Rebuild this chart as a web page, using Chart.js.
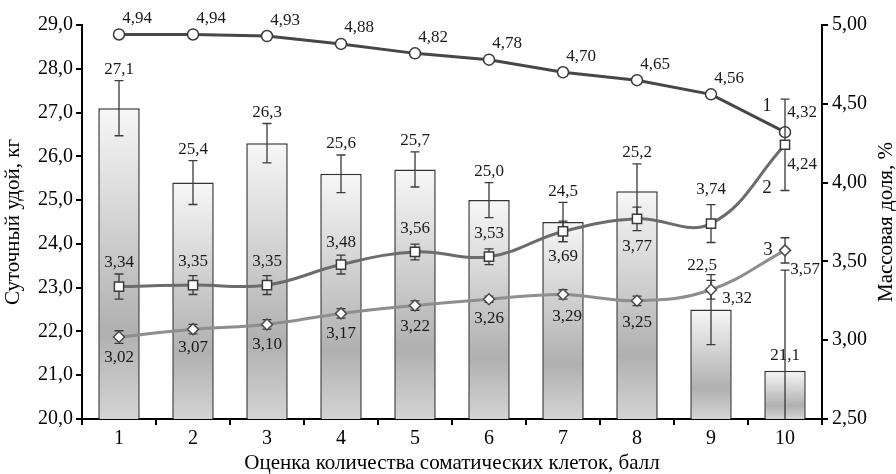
<!DOCTYPE html>
<html><head><meta charset="utf-8">
<script src="https://cdn.jsdelivr.net/npm/chart.js@4/dist/chart.umd.min.js"></script>
<style>html,body{margin:0;padding:0;background:#fff}#wrap{width:896px;height:474px;position:relative}</style>
</head><body><div id="wrap"><canvas id="c"></canvas></div>
<script>
// ---- data ----
const categories = ['1','2','3','4','5','6','7','8','9','10'];
const milkYield    = [27.1, 25.4, 26.3, 25.6, 25.7, 25.0, 24.5, 25.2, 22.5, 21.1];
const milkYieldErr = [0.63, 0.50, 0.45, 0.43, 0.40, 0.40, 0.45, 0.63, 0.80, 2.30];
const line1Values  = [4.94, 4.94, 4.93, 4.88, 4.82, 4.78, 4.70, 4.65, 4.56, 4.32];
const line2Values  = [3.34, 3.35, 3.35, 3.48, 3.56, 3.53, 3.69, 3.77, 3.74, 4.24];
const line2Err     = [0.08, 0.06, 0.06, 0.06, 0.05, 0.05, 0.065, 0.075, 0.12, 0.29];
const line3Values  = [3.02, 3.07, 3.10, 3.17, 3.22, 3.26, 3.29, 3.25, 3.32, 3.57];
const line3Err     = [0.04, 0.03, 0.03, 0.03, 0.03, 0.02, 0.03, 0.03, 0.06, 0.08];
const leftTicks  = [20, 21, 22, 23, 24, 25, 26, 27, 28, 29];
const rightTicks = [2.5, 3.0, 3.5, 4.0, 4.5, 5.0];
const seriesNames = ['1', '2', '3'];
const xTitle = 'Оценка количества соматических клеток, балл';
const yLeftTitle = 'Суточный удой, кг';
const yRightTitle = 'Массовая доля, %';

// ---- label placement (style) ----
const line1LabelOff = [[18,-16],[18,-16],[18,-16],[18,-16],[18,-16],[18,-16],[18,-16],[18,-16],[18,-16],[17,-20]];
const line2LabelOff = [[0,-24],[0,-24],[0,-24],[0,-22],[0,-23],[0,-23],[0,25],[0,28],[0,-34],[17,20]];
const line3LabelOff = [[0,20],[0,18],[0,20],[0,20],[0,21],[0,19],[4,22],[0,22],[26,9],[20,19]];
const barLabelOff   = [[0,-11],[0,-11],[0,-11],[0,-11],[0,-11],[0,-11],[0,-11],[0,-11],[-9,-9],[0,-15]];
const barLabelAnchorBarTop = [false,false,false,false,false,false,false,false,false,true];
const seriesNameOff = [[-18,-26],[-18,43],[-17,0]];

const FONT = '"Liberation Serif", "Times New Roman", serif';
const fmt = (v, d) => v.toFixed(d).replace('.', ',');

const barGradient = (ctx) => {
  const chart = ctx.chart; const y = chart.scales.y;
  if (!y || ctx.type !== 'data') return '#d0d0d0';
  const top = y.getPixelForValue(ctx.raw);
  const base = y.getPixelForValue(y.min);
  if (!isFinite(top) || !isFinite(base) || base - top < 1) return '#d0d0d0';
  const g = chart.ctx.createLinearGradient(0, top, 0, base);
  g.addColorStop(0, '#f7f7f7');
  g.addColorStop(0.72, '#b0b0b0');
  g.addColorStop(1, '#d4d4d4');
  return g;
};

function drawErr(ctx, x, yTop, yBot, cap) {
  ctx.beginPath();
  ctx.moveTo(x, yTop); ctx.lineTo(x, yBot);
  ctx.moveTo(x - cap, yTop); ctx.lineTo(x + cap, yTop);
  ctx.moveTo(x - cap, yBot); ctx.lineTo(x + cap, yBot);
  ctx.stroke();
}

const errPlugin = {
  id: 'errbars',
  afterDatasetDraw(chart, args) {
    const ctx = chart.ctx; const ca = chart.chartArea;
    const meta = chart.getDatasetMeta(args.index);
    ctx.save();
    ctx.beginPath(); ctx.rect(ca.left, ca.top - 2, ca.right - ca.left, ca.bottom - ca.top + 2); ctx.clip();
    ctx.strokeStyle = '#3a3a3a'; ctx.lineWidth = 1.3;
    if (args.index === 0) {
      const y = chart.scales.y;
      meta.data.forEach((el, i) => {
        drawErr(ctx, el.x, y.getPixelForValue(milkYield[i] + milkYieldErr[i]), y.getPixelForValue(milkYield[i] - milkYieldErr[i]), 4.5);
      });
    }
    ctx.restore();
  },
  beforeDatasetDraw(chart, args) {
    const ctx = chart.ctx;
    const y1 = chart.scales.y1;
    const meta = chart.getDatasetMeta(args.index);
    let vals = null, errs = null;
    if (args.index === 2) { vals = line2Values; errs = line2Err; }
    if (args.index === 3) { vals = line3Values; errs = line3Err; }
    if (!vals) return;
    ctx.save();
    ctx.strokeStyle = '#3a3a3a'; ctx.lineWidth = 1.3;
    meta.data.forEach((el, i) => {
      drawErr(ctx, el.x, y1.getPixelForValue(vals[i] + errs[i]), y1.getPixelForValue(vals[i] - errs[i]), 4.5);
    });
    ctx.restore();
  }
};

const labelPlugin = {
  id: 'labels',
  afterDraw(chart) {
    const ctx = chart.ctx; const y = chart.scales.y;
    ctx.save();
    ctx.fillStyle = '#1a1a1a';
    ctx.font = '17px ' + FONT;
    ctx.textAlign = 'center'; ctx.textBaseline = 'middle';
    const bars = chart.getDatasetMeta(0).data;
    bars.forEach((el, i) => {
      const anchor = barLabelAnchorBarTop[i] ? y.getPixelForValue(milkYield[i]) : y.getPixelForValue(milkYield[i] + milkYieldErr[i]);
      ctx.fillText(fmt(milkYield[i], 1), el.x + barLabelOff[i][0], anchor + barLabelOff[i][1]);
    });
    const sets = [[1, line1Values, line1LabelOff], [2, line2Values, line2LabelOff], [3, line3Values, line3LabelOff]];
    sets.forEach(([di, vals, off]) => {
      chart.getDatasetMeta(di).data.forEach((el, i) => {
        ctx.fillText(fmt(vals[i], 2), el.x + off[i][0], el.y + off[i][1]);
      });
    });
    ctx.font = '19px ' + FONT;
    [1, 2, 3].forEach((di, k) => {
      const pts = chart.getDatasetMeta(di).data; const el = pts[pts.length - 1];
      ctx.fillText(seriesNames[k], el.x + seriesNameOff[k][0], el.y + seriesNameOff[k][1]);
    });
    // right axis title (reads bottom-to-top)
    ctx.font = '21px ' + FONT;
    ctx.fillStyle = '#000';
    ctx.translate(886, (chart.chartArea.top + chart.chartArea.bottom) / 2);
    ctx.rotate(-Math.PI / 2);
    ctx.fillText(yRightTitle, 0, 0);
    ctx.restore();
  }
};

new Chart(document.getElementById('c'), {
  data: {
    labels: categories,
    datasets: [
      { type: 'bar', data: milkYield, yAxisID: 'y', order: 10,
        backgroundColor: barGradient, borderColor: '#333', borderWidth: 1.5, borderSkipped: 'bottom',
        barPercentage: 0.56, categoryPercentage: 1.0 },
      { type: 'line', data: line1Values, yAxisID: 'y1', order: 3,
        borderColor: '#474747', borderWidth: 3, tension: 0,
        pointStyle: 'circle', pointRadius: 5.5, pointBackgroundColor: '#fff', pointBorderColor: '#3a3a3a', pointBorderWidth: 1.5 },
      { type: 'line', data: line2Values, yAxisID: 'y1', order: 2,
        borderColor: '#6c6c6c', borderWidth: 3, tension: 0.4,
        pointStyle: 'rect', pointRadius: 6.5, pointBackgroundColor: '#fff', pointBorderColor: '#3a3a3a', pointBorderWidth: 1.5 },
      { type: 'line', data: line3Values, yAxisID: 'y1', order: 1,
        borderColor: '#8e8e8e', borderWidth: 3, tension: 0.4,
        pointStyle: 'rectRot', pointRadius: 5.5, pointBackgroundColor: '#fff', pointBorderColor: '#4a4a4a', pointBorderWidth: 1.5 }
    ]
  },
  options: {
    responsive: true, maintainAspectRatio: false, animation: false,
    layout: { padding: { top: 25, left: 0, right: 0, bottom: 0 } },
    plugins: { legend: { display: false }, tooltip: { enabled: false } },
    scales: {
      x: {
        type: 'category', offset: true,
        grid: { offset: true, drawOnChartArea: false, drawTicks: true, tickLength: 6, color: '#000', lineWidth: 2 },
        border: { display: true, color: '#000', width: 2 },
        ticks: { color: '#000', font: { family: FONT, size: 20 }, padding: 2, maxRotation: 0 },
        title: { display: true, text: xTitle, color: '#000', font: { family: FONT, size: 21 }, padding: { top: 0, bottom: -2 } },
        afterFit: s => { s.height = 55; }
      },
      y: {
        position: 'left', min: 20, max: 29,
        afterBuildTicks: s => { s.ticks = leftTicks.map(v => ({ value: v })); },
        grid: { drawOnChartArea: false, drawTicks: true, tickLength: 6, color: '#000', lineWidth: 2 },
        border: { display: true, color: '#000', width: 2 },
        ticks: { color: '#000', font: { family: FONT, size: 20 }, padding: 3, callback: v => fmt(v, 1) },
        title: { display: true, text: yLeftTitle, color: '#000', font: { family: FONT, size: 21 }, padding: { top: 1, bottom: 0 } },
        afterFit: s => { s.width = 82; }
      },
      y1: {
        position: 'right', min: 2.5, max: 5.0,
        afterBuildTicks: s => { s.ticks = rightTicks.map(v => ({ value: v })); },
        grid: { drawOnChartArea: false, drawTicks: true, tickLength: 6, color: '#000', lineWidth: 2 },
        border: { display: true, color: '#000', width: 2 },
        ticks: { color: '#000', font: { family: FONT, size: 20 }, padding: 4, callback: v => fmt(v, 2) },
        afterFit: s => { s.width = 74; }
      }
    }
  },
  plugins: [errPlugin, labelPlugin]
});
</script>
</body></html>
